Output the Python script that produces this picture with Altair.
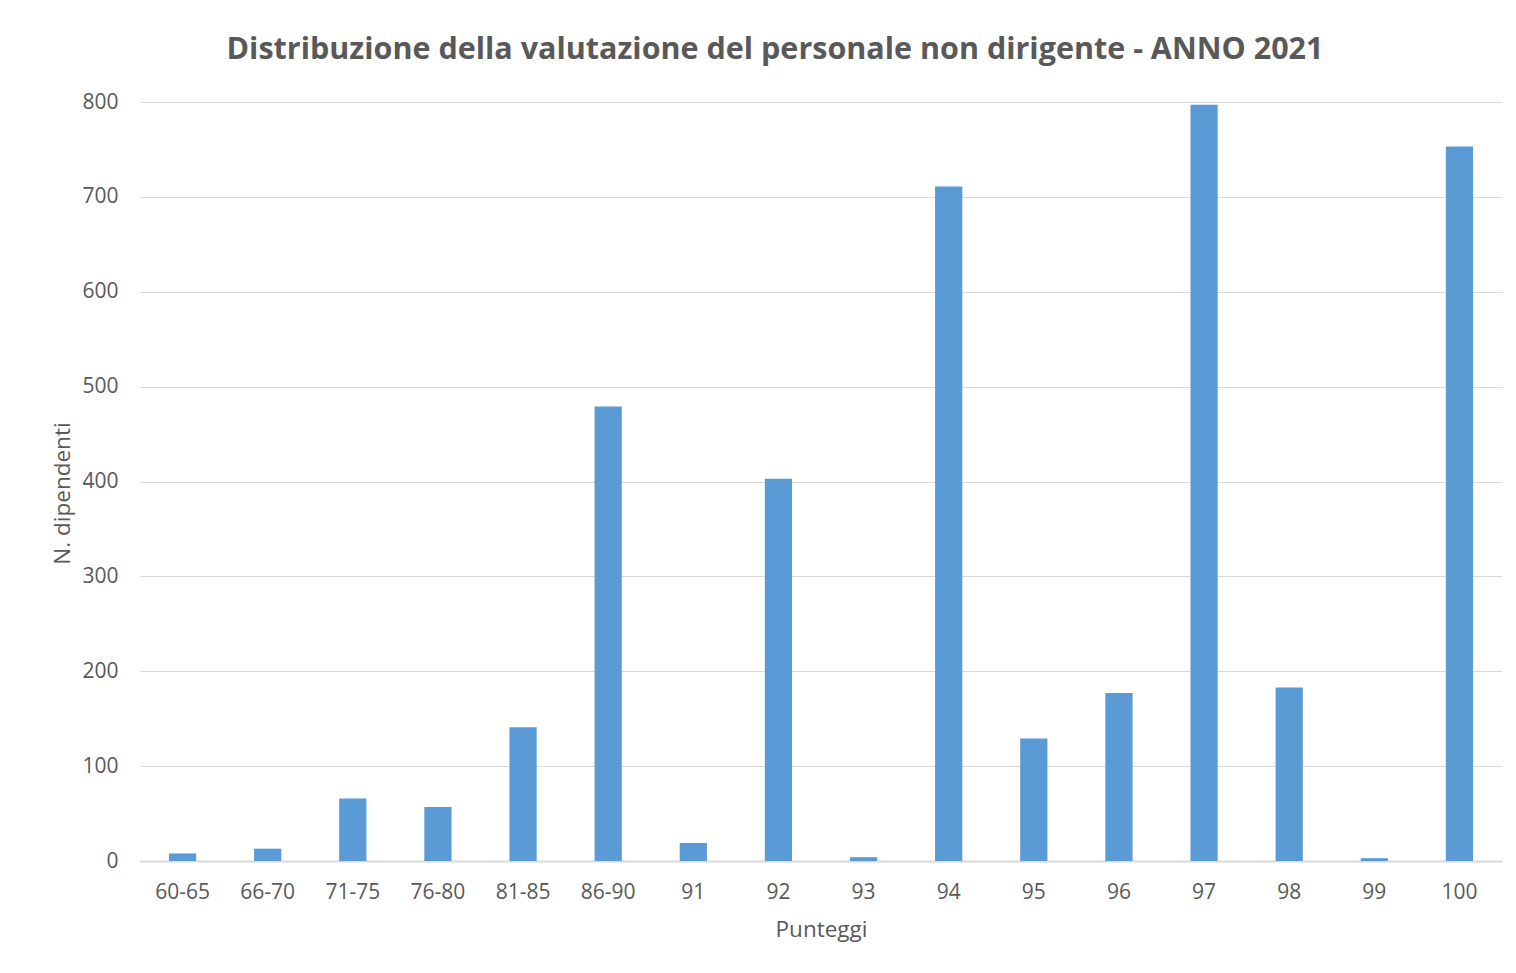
import altair as alt
import pandas as pd

categories = ["60-65", "66-70", "71-75", "76-80", "81-85", "86-90", "91", "92",
              "93", "94", "95", "96", "97", "98", "99", "100"]
values = [8, 13, 66, 57, 141, 479, 19, 403, 4, 711, 129, 177, 797, 183, 3, 753]

df = pd.DataFrame({"Punteggi": categories, "N": values})

FONT = "Open Sans"
GREY = "#595959"

chart = alt.Chart(df).mark_bar(color="#5b9bd5").encode(
    x=alt.X("Punteggi:N", sort=categories,
            scale=alt.Scale(paddingInner=0.68, paddingOuter=0.34),
            axis=alt.Axis(title="Punteggi", labelAngle=0, ticks=False,
                          domainColor="#d9d9d9", domainWidth=2,
                          labelPadding=20, titlePadding=16)),
    y=alt.Y("N:Q", scale=alt.Scale(domain=[0, 800], nice=False),
            axis=alt.Axis(title="N. dipendenti", values=list(range(0, 801, 100)),
                          ticks=False, domain=False, gridColor="#d9d9d9",
                          labelPadding=22, titlePadding=7, titleY=391)),
).properties(
    width=1362, height=759,
    title=alt.TitleParams("Distribuzione della valutazione del personale non dirigente - ANNO 2021",
                          fontSize=30.5, font=FONT, fontWeight="bold", color=GREY,
                          dx=-46, offset=26),
    padding={"left": 132, "top": 94, "right": 6, "bottom": 96},
    autosize=alt.AutoSizeParams(type="none"),
).configure_axis(
    labelFont=FONT, titleFont=FONT, labelColor=GREY, titleColor=GREY,
    labelFontSize=21, titleFontSize=22.5, titleFontWeight="normal",
).configure_view(stroke=None)

chart.save("out.html", embed_options={"renderer": "svg", "actions": False})
